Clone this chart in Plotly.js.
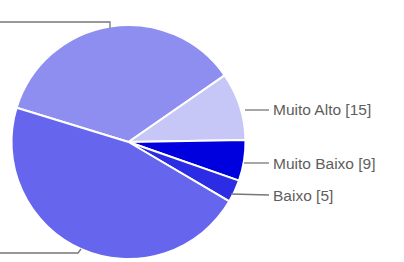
<!DOCTYPE html>
<html>
<head>
<meta charset="utf-8">
<script src="https://cdn.plot.ly/plotly-3.0.1.min.js"></script>
<style>html,body{margin:0;padding:0;background:#fff;}#chart{width:404px;height:262px;}</style>
</head>
<body>
<div id="chart"></div>
<script>
// Data (slice order clockwise, starting at the left boundary)
const categories = ["Alto", "Muito Alto", "Muito Baixo", "Baixo", "Médio"];
const counts = [57, 15, 9, 5, 74];
const sliceColors = ["#8d8ef0", "#c6c6f7", "#0000de", "#2c2ce4", "#6565ee"];
const labeledCategories = ["Muito Alto", "Muito Baixo", "Baixo"];

const W = 404, H = 262;
const px = x => x / W;
const py = y => 1 - y / H;

const labelPos = {"Muito Alto": 110, "Muito Baixo": 163, "Baixo": 195};
const lineStart = {"Muito Alto": [245, 110], "Muito Baixo": [244, 163], "Baixo": [231, 194]};

const annotations = labeledCategories.map(c => {
  const i = categories.indexOf(c);
  return {
    text: c + " [" + counts[i] + "]",
    xref: "paper", yref: "paper",
    x: px(271), y: py(labelPos[c]),
    xanchor: "left", yanchor: "middle",
    showarrow: false,
    font: {family: "Liberation Sans, Arial, sans-serif", size: 15.5, color: "#5e5e5e"}
  };
});

const lineStyle = {color: "#777777", width: 1.3};
const shapes = labeledCategories.map(c => ({
  type: "path", xref: "paper", yref: "paper",
  path: "M" + px(lineStart[c][0]) + "," + py(lineStart[c][1]) + " L" + px(269) + "," + py(labelPos[c]),
  line: lineStyle
}));
// leader lines of the two large slices, whose labels lie beyond the left edge
shapes.push({type: "path", xref: "paper", yref: "paper",
  path: "M" + px(-5) + "," + py(22) + " L" + px(110) + "," + py(22) + " L" + px(110) + "," + py(28),
  line: lineStyle});
shapes.push({type: "path", xref: "paper", yref: "paper",
  path: "M" + px(-5) + "," + py(253) + " L" + px(78) + "," + py(253) + " L" + px(81) + "," + py(249),
  line: lineStyle});

const trace = {
  type: "pie",
  labels: categories,
  values: counts,
  sort: false,
  direction: "clockwise",
  rotation: -73,
  textinfo: "none",
  hoverinfo: "label+value",
  marker: {colors: sliceColors, line: {color: "#ffffff", width: 2}},
  domain: {x: [px(11), px(246)], y: [1 - 259 / H, 1 - 25 / H]},
  showlegend: false
};

const layout = {
  width: W, height: H,
  margin: {l: 0, r: 0, t: 0, b: 0},
  paper_bgcolor: "#ffffff",
  showlegend: false,
  annotations: annotations,
  shapes: shapes
};

Plotly.newPlot("chart", [trace], layout, {displayModeBar: false, staticPlot: true});
</script>
</body>
</html>
